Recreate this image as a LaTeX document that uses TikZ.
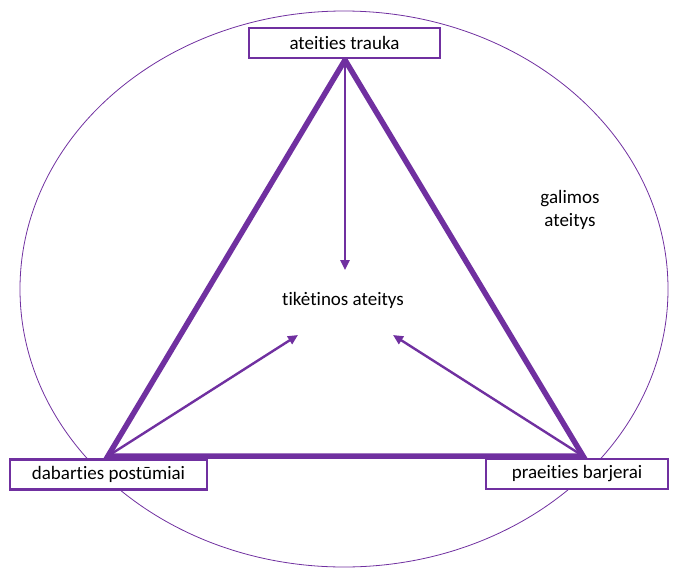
\documentclass[tikz,border=0pt]{standalone}
\usepackage{fontspec}
\setmainfont{Carlito}[Ligatures=NoCommon]
\usetikzlibrary{arrows.meta,shapes.geometric}
\definecolor{vio}{HTML}{7030A0}
\tikzset{
  box/.style={draw=vio, line width=2.3pt, fill=white, minimum height=30pt, inner sep=0pt, font=\fontsize{19}{23}\selectfont},
  lbl/.style={font=\fontsize{19}{23}\selectfont, align=center},
  tri/.style={draw=vio, line width=5.5pt, line join=miter},
  arr/.style={draw=vio, line width=2.4pt, -{Triangle[length=10pt,width=9pt]}},
}
\begin{document}
\begin{tikzpicture}[x=1pt,y=-1pt]
\useasboundingbox (0,0) rectangle (673,571);
\node[draw=vio, line width=0.8pt, ellipse, minimum width=648pt, minimum height=556pt, inner sep=0pt] (ell) at (344,289) {};
\coordinate (A) at (345,60);
\coordinate (B) at (108,456);
\coordinate (C) at (583,456);
\draw[tri] (A) -- (B) -- (C) -- cycle;
\coordinate (ta) at (345,270);
\coordinate (tb) at (298,335);
\coordinate (tc) at (393,335);
\draw[arr] (A) -- (ta);
\draw[arr] (B) -- (tb);
\draw[arr] (C) -- (tc);
\node[box, minimum width=191pt] (top) at (344.5,43) {ateities trauka};
\node[box, minimum width=197pt] (left) at (108.5,474.5) {dabarties postūmiai};
\node[box, minimum width=182pt] (right) at (577,474) {praeities barjerai};
\node[lbl] (mid) at (343,300) {tikėtinos ateitys};
\node[lbl] (gal) at (570,210) {galimos\\ateitys};
\end{tikzpicture}
\end{document}
